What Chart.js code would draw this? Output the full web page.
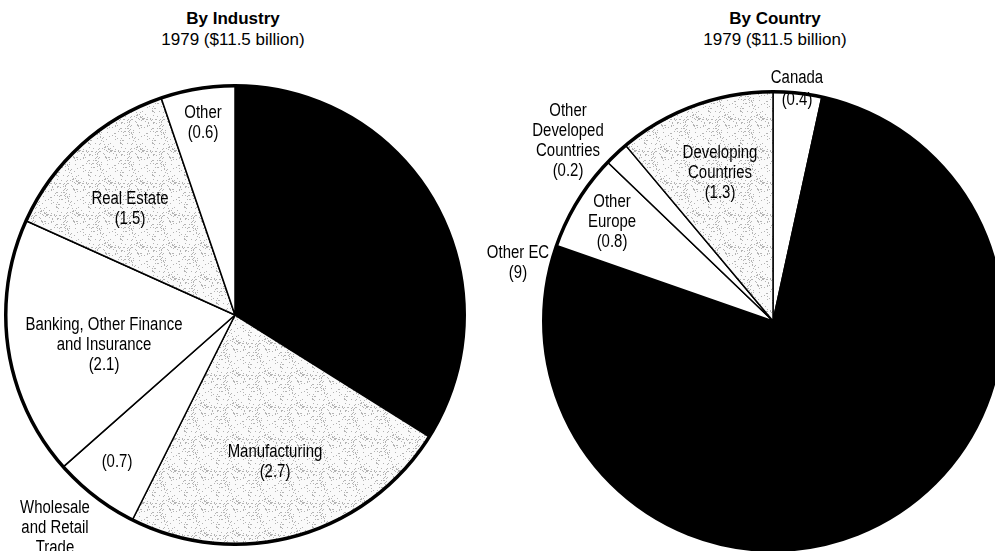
<!DOCTYPE html>
<html>
<head>
<meta charset="utf-8">
<script src="https://cdn.jsdelivr.net/npm/chart.js@4.4.1/dist/chart.umd.min.js"></script>
<style>
  html, body { margin: 0; padding: 0; background: #fff; overflow: hidden; }
  body { width: 995px; height: 551px; position: relative; }
  canvas { position: absolute; top: 0; }
  #industry { left: 0; }
  #country { left: 460px; }
  .title {
    position: absolute; top: 8px; width: 300px; text-align: center;
    font-family: "Liberation Sans", Arial, sans-serif; font-size: 17px; line-height: 21px; color: #000;
  }
  .title b { font-weight: bold; }
</style>
</head>
<body>

<div class="title" style="left:83px"><b>By Industry</b><br>1979 ($11.5 billion)</div>
<div class="title" style="left:625px"><b>By Country</b><br>1979 ($11.5 billion)</div>

<canvas id="industry" width="497" height="551"></canvas>
<canvas id="country" width="560" height="551"></canvas>

<script>
// data
var industryLabels = ['', 'Manufacturing', 'Wholesale and Retail Trade', 'Banking, Other Finance and Insurance', 'Real Estate', 'Other'];
var industryValues = [3.9, 2.7, 0.7, 2.1, 1.5, 0.6];

var countryLabels = ['Canada', 'Other EC', 'Other Europe', 'Other Developed Countries', 'Developing Countries'];
var countryValues = [0.4, 9, 0.8, 0.2, 1.3];

function $(sel) { return document.querySelector(sel); }

//stipple fill for the grey slices
function stipple() {
    var c = document.createElement('canvas');
    c.width = 32; c.height = 32;
    var g = c.getContext('2d');
    g.fillStyle = '#fafafa';
    g.fillRect(0, 0, 32, 32);
    g.fillStyle = '#b4b4b4';
    var h = 7;
    for (var i = 0; i < 32; i++) {
        for (var j = 0; j < 32; j++) {
            h = (h * 1103 + 12345 + i * 31 + j * 17) % 997;
            if (h % 9 === 0) g.fillRect(i, j, 1, 1);
        }
    }
    return g.createPattern(c, 'repeat');
}
var dots = stipple();

function val(arr, i) { return '(' + arr[i] + ')'; }

// narrow look: regular sans squeezed horizontally
var labelFont = '18px "Liberation Sans", Arial, sans-serif';
var squeeze = 0.83;

// outer rim + text drawn around the pie centre
var pieExtras = {
    id: 'pieExtras',
    afterDatasetsDraw: function (chart, args, opts) {
        var arc = chart.getDatasetMeta(0).data[0];
        var ctx = chart.ctx;
        ctx.save();
        ctx.beginPath();
        ctx.arc(arc.x, arc.y, arc.outerRadius, 0, Math.PI * 2);
        ctx.lineWidth = 3.5;
        ctx.strokeStyle = '#000';
        ctx.stroke();

        ctx.fillStyle = '#000';
        ctx.font = labelFont;
        ctx.textAlign = 'center';
        ctx.textBaseline = 'middle';
        opts.items.forEach(function (it) {
            var top = arc.y + it.dy - (it.lines.length - 1) * 10;
            it.lines.forEach(function (line, k) {
                ctx.save();
                ctx.translate(arc.x + it.dx, top + k * 20);
                ctx.scale(squeeze, 1);
                ctx.fillText(line, 0, 0);
                ctx.restore();
            });
        });
        ctx.restore();
    }
};

function pieOptions(padding, items) {
    return {
        responsive: false,
        animation: false,
        layout: { padding: padding },
        events: [],
        plugins: {
            legend: { display: false },
            tooltip: { enabled: false },
            pieExtras: { items: items }
        }
    };
}

new Chart($("#industry").getContext('2d'), {
    type: 'pie',
    data: {
        labels: industryLabels,
        datasets: [{
            data: industryValues,
            backgroundColor: ['#000', dots, '#fff', '#fff', dots, '#fff'],
            borderColor: '#000',
            borderWidth: 1.5,
            borderJoinStyle: 'bevel'
        }]
    },
    options: pieOptions({ left: 5, top: 85, right: 32, bottom: 6 }, [
        { lines: ['Other', val(industryValues, 5)], dx: -32, dy: -192 },
        { lines: ['Real Estate', val(industryValues, 4)], dx: -105, dy: -106 },
        { lines: ['Banking, Other Finance', 'and Insurance', val(industryValues, 3)], dx: -131, dy: 30 },
        { lines: [val(industryValues, 2)], dx: -118, dy: 147 },
        { lines: ['Wholesale', 'and Retail', 'Trade'], dx: -180, dy: 213 },
        { lines: ['Manufacturing', val(industryValues, 1)], dx: 40, dy: 147 }
    ]),
    plugins: [pieExtras]
});

new Chart($("#country").getContext('2d'), {
    type: 'pie',
    data: {
        labels: countryLabels,
        datasets: [{
            data: countryValues,
            backgroundColor: ['#fff', '#000', '#fff', '#fff', dots],
            borderColor: '#000',
            borderWidth: 1.5,
            borderJoinStyle: 'bevel'
        }]
    },
    options: pieOptions({ left: 83, top: 91, right: 17, bottom: 0 }, [
        { lines: ['Canada'], dx: 24, dy: -243 },
        { lines: [val(countryValues, 0)], dx: 24, dy: -221 },
        { lines: ['Developing', 'Countries', val(countryValues, 4)], dx: -53, dy: -148 },
        { lines: ['Other', 'Developed', 'Countries', val(countryValues, 3)], dx: -205, dy: -180 },
        { lines: ['Other', 'Europe', val(countryValues, 2)], dx: -161, dy: -99 },
        { lines: ['Other EC', val(countryValues, 1)], dx: -255, dy: -58 }
    ]),
    plugins: [pieExtras]
});
</script>
</body>
</html>
